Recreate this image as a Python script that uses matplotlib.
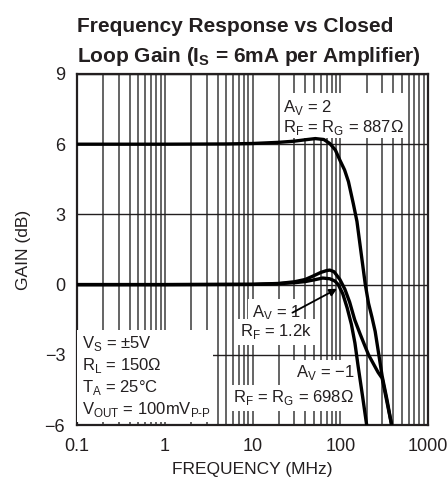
import numpy as np
import matplotlib
matplotlib.use("Agg")
from matplotlib import pyplot as plt
from matplotlib.patches import Rectangle
from matplotlib.ticker import LogLocator, FixedLocator, NullFormatter

FONT = ['Liberation Sans', 'DejaVu Sans']
plt.rcParams['font.family'] = FONT
plt.rcParams['mathtext.fontset'] = 'custom'
plt.rcParams['mathtext.rm'] = 'Liberation Sans'
plt.rcParams['mathtext.bf'] = 'Liberation Sans:bold'

INK = '#231f20'

# curve data (frequency in MHz, gain in dB)
freq_av2 = [0.1, 1, 5, 10, 20, 30, 40, 52, 65, 76, 88, 99, 112, 124, 141, 155,
            175, 193, 210, 230, 250, 270, 300, 340, 385, 420]
gain_av2 = [6.0, 6.0, 6.01, 6.03, 6.08, 6.13, 6.19, 6.24, 6.2, 6.03, 5.75, 5.32,
            4.9, 4.4, 3.45, 2.7, 1.2, 0.0, -0.8, -1.4, -2.0, -2.8, -3.9, -4.9,
            -6.0, -7.0]

freq_avm1 = [0.1, 1, 10, 20, 30, 40, 50, 60, 70, 76, 85, 99, 113, 128, 146, 168,
             190, 210, 240, 270, 300, 340, 385, 420]
gain_avm1 = [0.0, 0.0, 0.01, 0.05, 0.12, 0.22, 0.38, 0.52, 0.6, 0.62, 0.55, 0.22,
             -0.2, -0.75, -1.5, -2.1, -2.6, -3.0, -3.4, -3.75, -4.0, -5.0, -6.0,
             -7.0]

freq_av1 = [0.1, 1, 10, 20, 30, 40, 50, 63, 76, 87, 95, 107, 120, 134, 147, 160,
            180, 200, 215]
gain_av1 = [0.0, 0.0, 0.01, 0.04, 0.08, 0.13, 0.2, 0.28, 0.25, 0.15, 0.0, -0.4,
            -1.0, -1.7, -2.5, -3.5, -4.8, -6.0, -6.8]

y_ticks = [-6, -3, 0, 3, 6, 9]
x_ticks = [0.1, 1, 10, 100, 1000]
x_ticklabels = ['0.1', '1', '10', '100', '1000']

fig = plt.figure(figsize=(4.48, 4.79), dpi=100)
ax = fig.add_axes([77 / 448, 1 - 425 / 479, 351 / 448, 351 / 479])

ax.set_xscale('log')
ax.set_xlim(0.1, 1000)
ax.set_ylim(-6, 9)

ax.xaxis.set_major_locator(FixedLocator(x_ticks))
ax.set_xticklabels(x_ticklabels)
ax.xaxis.set_minor_locator(LogLocator(base=10, subs=np.arange(2, 10)))
ax.xaxis.set_minor_formatter(NullFormatter())
ax.set_yticks(y_ticks)
ax.set_yticklabels([str(v).replace('-', '\u2212') for v in y_ticks])

ax.tick_params(which='both', length=0, labelsize=13, colors=INK)
ax.tick_params(axis='x', pad=9.5)
ax.tick_params(axis='y', pad=8.5)

ax.grid(axis='x', which='both', color='#4a4a4a', linewidth=1.2, zorder=0)
ax.grid(axis='y', which='major', color=INK, linewidth=1.0, zorder=0)
ax.set_axisbelow(True)
for s in ax.spines.values():
    s.set_linewidth(1.6)
    s.set_color(INK)

lw = 2.4
for f, g in [(freq_av2, gain_av2), (freq_avm1, gain_avm1), (freq_av1, gain_av1)]:
    ax.plot(f, g, color='black', linewidth=lw, solid_joinstyle='round',
            solid_capstyle='round', zorder=5)

# white panels behind the annotation blocks (axes fraction)
for x0, y0, w, h in [(0.584, 0.818, 0.345, 0.128),
                     (0.0, 0.008, 0.388, 0.262)]:
    ax.add_patch(Rectangle((x0, y0), w, h, transform=ax.transAxes,
                           facecolor='white', edgecolor='none', zorder=3))

box = dict(facecolor='white', edgecolor='none', pad=2.5)
tkw = dict(fontsize=12, color=INK, va='baseline', zorder=4)

# A_V = 2 label
ax.text(22.3, 7.36, r'A$_{\mathregular{V}}$ = 2', ha='left', **tkw)
ax.text(22.3, 6.51, r'R$_{\mathregular{F}}$ = R$_{\mathregular{G}}$ = 887Ω', ha='left', **tkw)

# A_V = 1 label with arrow
ax.text(18.5, -1.38, r'A$_{\mathregular{V}}$ = 1', ha='center', bbox=box, **tkw)
ax.text(18.5, -2.2, r'R$_{\mathregular{F}}$ = 1.2k', ha='center', bbox=box, **tkw)
ax.annotate('', xy=(92, -0.18), xytext=(28.5, -1.2),
            arrowprops=dict(arrowstyle='-|>', color='black', lw=1.3,
                            mutation_scale=11, shrinkA=0, shrinkB=0),
            zorder=6)

# A_V = -1 label
ax.text(144, -3.95, r'A$_{\mathregular{V}}$ = ' + '\u22121', ha='right', bbox=box, **tkw)
ax.text(144, -5.02, r'R$_{\mathregular{F}}$ = R$_{\mathregular{G}}$ = 698Ω', ha='right',
        bbox=box, **tkw)

# test conditions
cond = [r'V$_{\mathregular{S}}$ = ±5V',
        r'R$_{\mathregular{L}}$ = 150Ω',
        r'T$_{\mathregular{A}}$ = 25°C',
        r'V$_{\mathregular{OUT}}$ = 100mV$_{\mathregular{P‐P}}$']
cond_y = [-2.73, -3.67, -4.61, -5.51]
for s, yv in zip(cond, cond_y):
    ax.text(0.114, yv, s, ha='left', **tkw)

ax.set_xlabel('FREQUENCY (MHz)', fontsize=12.5, color=INK, labelpad=5)
ax.set_ylabel('GAIN (dB)', fontsize=12.5, color=INK, labelpad=10)

fig.text(77 / 448, 1 - 32 / 479, 'Frequency Response vs Closed', fontsize=15,
         fontweight='bold', color=INK, va='baseline', ha='left')
fig.text(77 / 448, 1 - 62 / 479, r'Loop Gain (I$_{\mathregular{S}}$ = 6mA per Amplifier)',
         fontsize=15, fontweight='bold', color=INK, va='baseline', ha='left')

fig.savefig('out.png', dpi=100)
